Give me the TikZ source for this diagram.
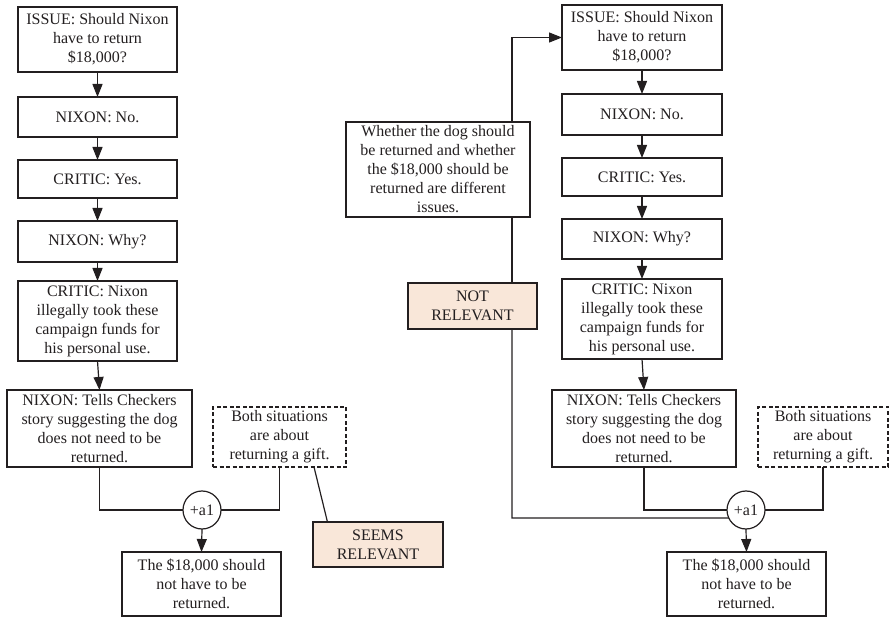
\documentclass[tikz,border=0pt]{standalone}
\usepackage{fontspec}
\setmainfont{Liberation Serif}
\usetikzlibrary{arrows.meta}
\definecolor{ink}{HTML}{231F20}
\definecolor{peach}{HTML}{F9E7D9}
\begin{document}
\begin{tikzpicture}[x=1pt,y=-1pt,
  every node/.style={font=\fontsize{16}{19}\selectfont, align=center,
    inner sep=0pt, outer sep=0pt, text=ink},
  sz/.style 2 args={minimum width=#1pt, minimum height=#2pt},
  box/.style={draw=ink, line width=1.2pt, fill=white},
  hint/.style={box, dash pattern=on 4pt off 2.5pt},
  verdict/.style={box, fill=peach},
  joint/.style={draw=ink, line width=1.2pt, fill=white, circle, minimum size=38pt},
  link/.style={draw=ink, line width=1.2pt},
  flow/.style={link, -{Triangle[length=13pt,width=10pt]}}]
\useasboundingbox (0,0) rectangle (889,617);

% ---- left argument ----
\node[box, sz={159}{65}] (i1) at (97.5,39.5) {ISSUE: Should Nixon\\have to return\\\$18,000?};
\node[box, sz={159}{40}] (n1) at (97.5,117) {NIXON: No.};
\node[box, sz={159}{38}] (c1) at (97.5,179) {CRITIC: Yes.};
\node[box, sz={159}{41}] (w1) at (97.5,241.5) {NIXON: Why?};
\node[box, sz={159}{80}] (cn1) at (97.5,321) {CRITIC: Nixon\\illegally took these\\campaign funds for\\his personal use.};
\node[box, sz={185}{77}] (t1) at (99.5,428.5) {NIXON: Tells Checkers\\story suggesting the dog\\does not need to be\\returned.};
\node[hint, sz={133}{60}] (d1) at (279.5,437) {Both situations\\are about\\returning a gift.};
\node[joint] (a1) at (202,510) {+a1};
\node[box, sz={159}{64}] (r1) at (201.5,584) {The \$18,000 should\\not have to be\\returned.};
\node[verdict, sz={130}{45}] (s1) at (378,544.5) {SEEMS\\RELEVANT};

\draw[flow] (i1.south) -- (n1.north);
\draw[flow] (n1.south) -- (c1.north);
\draw[flow] (c1.south) -- (w1.north);
\draw[flow] (w1.south) -- (cn1.north);
\draw[flow] (cn1.south) -- (t1.north);
\draw[link] (t1.south) |- (a1.west);
\draw[link] (d1.south) |- (a1.east);
\draw[flow] (a1.south) -- (r1.north);
\draw[link] (d1.-41.8) -- (s1.156.6);

% ---- right argument ----
\node[box, sz={160}{65}] (i2) at (642,37.5) {ISSUE: Should Nixon\\have to return\\\$18,000?};
\node[box, sz={160}{41}] (n2) at (642,114.5) {NIXON: No.};
\node[box, sz={160}{38}] (c2) at (642,177) {CRITIC: Yes.};
\node[box, sz={160}{40}] (w2) at (642,239) {NIXON: Why?};
\node[box, sz={160}{80}] (cn2) at (642,319) {CRITIC: Nixon\\illegally took these\\campaign funds for\\his personal use.};
\node[box, sz={184}{77}] (t2) at (644,428.5) {NIXON: Tells Checkers\\story suggesting the dog\\does not need to be\\returned.};
\node[hint, sz={130}{60}] (d2) at (823,437) {Both situations\\are about\\returning a gift.};
\node[joint] (a2) at (746,510) {+a1};
\node[box, sz={159}{64}] (r2) at (746.5,584) {The \$18,000 should\\not have to be\\returned.};
\node[box, sz={184}{95}] (wh) at (438,169.5) {Whether the dog should\\be returned and whether\\the \$18,000 should be\\returned are different\\issues.};
\node[verdict, sz={129}{46}] (nr) at (472.5,306) {NOT\\RELEVANT};

\draw[flow] (i2.south) -- (n2.north);
\draw[flow] (n2.south) -- (c2.north);
\draw[flow] (c2.south) -- (w2.north);
\draw[flow] (w2.south) -- (cn2.north);
\draw[flow] (cn2.south) -- (t2.north);
\draw[link] (t2.south) |- (a2.west);
\draw[link] (d2.south) |- (a2.east);
\draw[flow] (a2.south) -- (r2.north);

% objection path from the joint back up to the issue
\coordinate (bend) at (512,518);
\draw[link] (a2.205) -- (bend) -- (bend |- nr.south);
\draw[link] (bend |- nr.north) -- (bend |- wh.south);
\draw[flow] (bend |- wh.north) |- (i2.west);
\end{tikzpicture}
\end{document}
